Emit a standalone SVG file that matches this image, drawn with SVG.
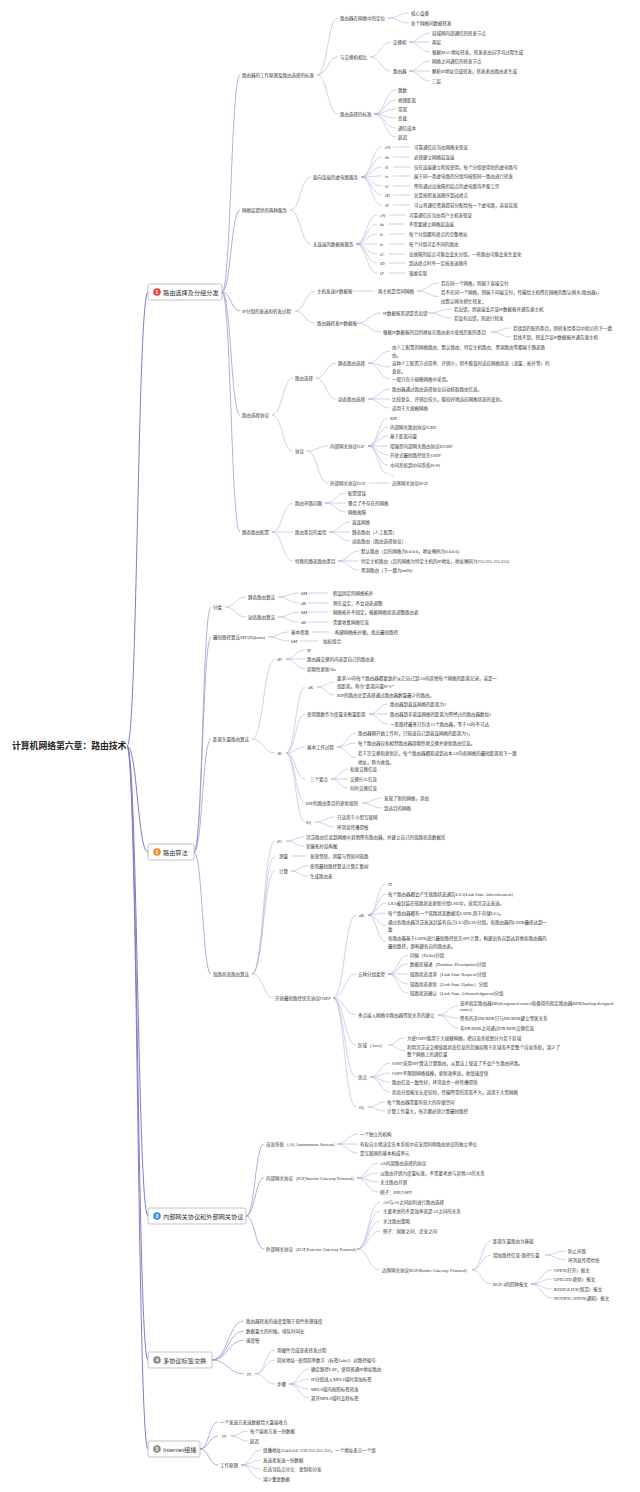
<svg xmlns="http://www.w3.org/2000/svg" width="640" height="1492" viewBox="0 0 640 1492">
<style>
.t{font-family:"Liberation Serif","Noto Sans CJK SC",sans-serif;font-size:4.5px;fill:#333;dominant-baseline:central}
.b{font-family:"Liberation Sans","Noto Sans CJK SC",sans-serif;font-size:6.2px;fill:#333;dominant-baseline:central}
.r{font-family:"Liberation Sans","Noto Sans CJK SC",sans-serif;font-size:8.8px;font-weight:bold;fill:#222;dominant-baseline:central}
.n{font-family:"Liberation Sans",sans-serif;font-size:5px;fill:#fff;text-anchor:middle;dominant-baseline:central;font-weight:bold}
.box{fill:#fff;stroke:#9a9a9a;stroke-width:0.6}
.c0{fill:none;stroke:#7d7dc6;stroke-width:1}
.c1{fill:none;stroke:#8e8ecc;stroke-width:0.7}
.c2{fill:none;stroke:#a3a3d4;stroke-width:0.5}
</style>
<rect width="640" height="1492" fill="#fff"/>
<g id="connectors">
<g class="c0">
<path d="M127 746 C137.5 746 137.5 292 148 292"/>
<path d="M127 746 C137.5 746 137.5 852 148 852"/>
<path d="M127 746 C137.5 746 137.5 1216 148 1216"/>
<path d="M127 746 C137.5 746 137.5 1360 148 1360"/>
<path d="M127 746 C137.5 746 137.5 1449 148 1449"/>
</g>
<g class="c1">
<path d="M222 292 C231 292 231 75 240 75"/>
<path d="M222 292 C231 292 231 210 240 210"/>
<path d="M222 292 C231 292 231 311 240 311"/>
<path d="M222 292 C231 292 231 415 240 415"/>
<path d="M222 292 C231 292 231 532 240 532"/>
<path d="M194 852 C202.5 852 202.5 607 211 607"/>
<path d="M194 852 C202.5 852 202.5 637 211 637"/>
<path d="M194 852 C202.5 852 202.5 739 211 739"/>
<path d="M194 852 C202.5 852 202.5 974 211 974"/>
<path d="M246 1216 C255 1216 255 1144 264 1144"/>
<path d="M246 1216 C255 1216 255 1178 264 1178"/>
<path d="M246 1216 C255 1216 255 1249 264 1249"/>
<path d="M212 1360 C228 1360 228 1321 244 1321"/>
<path d="M212 1360 C228 1360 228 1331 244 1331"/>
<path d="M212 1360 C228 1360 228 1340 244 1340"/>
<path d="M212 1360 C228 1360 228 1374 244 1374"/>
<path d="M200 1449 C209 1449 209 1422 218 1422"/>
<path d="M200 1449 C209 1449 209 1436 218 1436"/>
<path d="M200 1449 C209 1449 209 1465 218 1465"/>
</g>
<g class="c2">
<path d="M317 75 C327.5 75 327.5 18 338 18"/>
<path d="M317 75 C327.5 75 327.5 57 338 57"/>
<path d="M317 75 C327.5 75 327.5 114 338 114"/>
<path d="M388 18 C398.5 18 398.5 13 409 13"/>
<path d="M388 18 C398.5 18 398.5 23 409 23"/>
<path d="M370 57 C380.5 57 380.5 42 391 42"/>
<path d="M370 57 C380.5 57 380.5 71 391 71"/>
<path d="M409 42 C419.5 42 419.5 33 430 33"/>
<path d="M409 42 C419.5 42 419.5 42 430 42"/>
<path d="M409 42 C419.5 42 419.5 52 430 52"/>
<path d="M409 71 C419.5 71 419.5 61 430 61"/>
<path d="M409 71 C419.5 71 419.5 71 430 71"/>
<path d="M409 71 C419.5 71 419.5 81 430 81"/>
<path d="M374 114 C385 114 385 90 396 90"/>
<path d="M374 114 C385 114 385 100 396 100"/>
<path d="M374 114 C385 114 385 109 396 109"/>
<path d="M374 114 C385 114 385 118 396 118"/>
<path d="M374 114 C385 114 385 128 396 128"/>
<path d="M374 114 C385 114 385 137 396 137"/>
<path d="M290 210 C300.5 210 300.5 177 311 177"/>
<path d="M290 210 C300.5 210 300.5 244 311 244"/>
<path d="M361 177 C371.5 177 371.5 147 382 147"/>
<path d="M361 177 C371.5 177 371.5 157 382 157"/>
<path d="M361 177 C371.5 177 371.5 167 382 167"/>
<path d="M361 177 C371.5 177 371.5 176 382 176"/>
<path d="M361 177 C371.5 177 371.5 186 382 186"/>
<path d="M361 177 C371.5 177 371.5 195 382 195"/>
<path d="M361 177 C371.5 177 371.5 205 382 205"/>
<path d="M393 147 H410 M393 157 H410 M393 167 H410 M393 176 H410 M393 186 H410 M393 195 H410 M393 205 H410"/>
<path d="M356 244 C366.5 244 366.5 215 377 215"/>
<path d="M356 244 C366.5 244 366.5 224 377 224"/>
<path d="M356 244 C366.5 244 366.5 234 377 234"/>
<path d="M356 244 C366.5 244 366.5 244 377 244"/>
<path d="M356 244 C366.5 244 366.5 254 377 254"/>
<path d="M356 244 C366.5 244 366.5 263 377 263"/>
<path d="M356 244 C366.5 244 366.5 273 377 273"/>
<path d="M389 215 H405 M389 224 H405 M389 234 H405 M389 244 H405 M389 254 H405 M389 263 H405 M389 273 H405"/>
<path d="M295 311 C305 311 305 291 315 291"/>
<path d="M295 311 C305 311 305 323 315 323"/>
<path d="M353 291 H374"/>
<path d="M417 291 C428 291 428 283 439 283"/>
<path d="M417 291 C428 291 428 296.5 439 296.5"/>
<path d="M357 323 C369 323 369 313 381 313"/>
<path d="M357 323 C369 323 369 332 381 332"/>
<path d="M428 313 C440 313 440 309 452 309"/>
<path d="M428 313 C440 313 440 318 452 318"/>
<path d="M491 332 C501 332 501 328 511 328"/>
<path d="M491 332 C501 332 501 337 511 337"/>
<path d="M272 415 C282.5 415 282.5 378 293 378"/>
<path d="M272 415 C282.5 415 282.5 451 293 451"/>
<path d="M316 378 C326 378 326 363 336 363"/>
<path d="M316 378 C326 378 326 399 336 399"/>
<path d="M368 363 C379 363 379 351 390 351"/>
<path d="M368 363 C379 363 379 367 390 367"/>
<path d="M368 363 C379 363 379 379 390 379"/>
<path d="M368 399 C379 399 379 389 390 389"/>
<path d="M368 399 C379 399 379 399 390 399"/>
<path d="M368 399 C379 399 379 408 390 408"/>
<path d="M307 451 C317.5 451 317.5 446 328 446"/>
<path d="M307 451 C317.5 451 317.5 483 328 483"/>
<path d="M368 446 C378 446 378 418 388 418"/>
<path d="M368 446 C378 446 378 427 388 427"/>
<path d="M368 446 C378 446 378 436 388 436"/>
<path d="M368 446 C378 446 378 446 388 446"/>
<path d="M368 446 C378 446 378 455 388 455"/>
<path d="M368 446 C378 446 378 465 388 465"/>
<path d="M368 446 C378 446 378 474 388 474"/>
<path d="M369 483 H389"/>
<path d="M272 532 C282.5 532 282.5 503 293 503"/>
<path d="M272 532 C282.5 532 282.5 532 293 532"/>
<path d="M272 532 C282.5 532 282.5 561 293 561"/>
<path d="M325 503 C335.5 503 335.5 493 346 493"/>
<path d="M325 503 C335.5 503 335.5 503 346 503"/>
<path d="M325 503 C335.5 503 335.5 512 346 512"/>
<path d="M329 532 C339.5 532 339.5 522 350 522"/>
<path d="M329 532 C339.5 532 339.5 532 350 532"/>
<path d="M329 532 C339.5 532 339.5 541 350 541"/>
<path d="M338 561 C348.5 561 348.5 551 359 551"/>
<path d="M338 561 C348.5 561 348.5 561 359 561"/>
<path d="M338 561 C348.5 561 348.5 570 359 570"/>
<path d="M225 607 C235.5 607 235.5 597 246 597"/>
<path d="M225 607 C235.5 607 235.5 617 246 617"/>
<path d="M278 597 C288.5 597 288.5 593 299 593"/>
<path d="M278 597 C288.5 597 288.5 603 299 603"/>
<path d="M278 617 C288.5 617 288.5 612 299 612"/>
<path d="M278 617 C288.5 617 288.5 622 299 622"/>
<path d="M308 593 H328 M308 603 H328 M308 612 H328 M308 622 H328"/>
<path d="M268 637 C278.5 637 278.5 632 289 632"/>
<path d="M268 637 C278.5 637 278.5 641 289 641"/>
<path d="M312 632 H329 M300 641 H318"/>
<path d="M252 739 C263.5 739 263.5 659 275 659"/>
<path d="M252 739 C263.5 739 263.5 753 275 753"/>
<path d="M286 659 C295.5 659 295.5 650 305 650"/>
<path d="M286 659 C295.5 659 295.5 659 305 659"/>
<path d="M286 659 C295.5 659 295.5 669 305 669"/>
<path d="M286 753 C295.5 753 295.5 687 305 687"/>
<path d="M286 753 C295.5 753 295.5 714 305 714"/>
<path d="M286 753 C295.5 753 295.5 747 305 747"/>
<path d="M286 753 C295.5 753 295.5 779 305 779"/>
<path d="M286 753 C295.5 753 295.5 803 305 803"/>
<path d="M286 753 C295.5 753 295.5 822 305 822"/>
<path d="M317 687 C326 687 326 682 335 682"/>
<path d="M317 687 C326 687 326 695 335 695"/>
<path d="M369 714 C378.5 714 378.5 704 388 704"/>
<path d="M369 714 C378.5 714 378.5 714 388 714"/>
<path d="M369 714 C378.5 714 378.5 724 388 724"/>
<path d="M337 747 C346.5 747 346.5 733 356 733"/>
<path d="M337 747 C346.5 747 346.5 743 356 743"/>
<path d="M337 747 C346.5 747 346.5 757.5 356 757.5"/>
<path d="M331 779 C339.5 779 339.5 769 348 769"/>
<path d="M331 779 C339.5 779 339.5 779 348 779"/>
<path d="M331 779 C339.5 779 339.5 788 348 788"/>
<path d="M362 803 C372 803 372 798 382 798"/>
<path d="M362 803 C372 803 372 808 382 808"/>
<path d="M315 822 C325 822 325 817 335 817"/>
<path d="M315 822 C325 822 325 827 335 827"/>
<path d="M252 974 C263.5 974 263.5 841 275 841"/>
<path d="M252 974 C263.5 974 263.5 856 275 856"/>
<path d="M252 974 C263.5 974 263.5 871 275 871"/>
<path d="M252 974 C263.5 974 263.5 998 273 998"/>
<path d="M286 841 C295 841 295 837 304 837"/>
<path d="M286 841 C295 841 295 846 304 846"/>
<path d="M291 856 H306"/>
<path d="M291 871 C299.5 871 299.5 866 308 866"/>
<path d="M291 871 C299.5 871 299.5 876 308 876"/>
<path d="M333 998 C344.5 998 344.5 915 356 915"/>
<path d="M333 998 C344.5 998 344.5 974 356 974"/>
<path d="M333 998 C344.5 998 344.5 1015 356 1015"/>
<path d="M333 998 C344.5 998 344.5 1045 356 1045"/>
<path d="M333 998 C344.5 998 344.5 1077 356 1077"/>
<path d="M333 998 C344.5 998 344.5 1107 356 1107"/>
<path d="M368 915 C377 915 377 884 386 884"/>
<path d="M368 915 C377 915 377 894 386 894"/>
<path d="M368 915 C377 915 377 903 386 903"/>
<path d="M368 915 C377 915 377 913 386 913"/>
<path d="M368 915 C377 915 377 925.5 386 925.5"/>
<path d="M368 915 C377 915 377 942 386 942"/>
<path d="M388 974 C398 974 398 955 408 955"/>
<path d="M388 974 C398 974 398 964 408 964"/>
<path d="M388 974 C398 974 398 974 408 974"/>
<path d="M388 974 C398 974 398 984 408 984"/>
<path d="M388 974 C398 974 398 993 408 993"/>
<path d="M438 1015 C448 1015 448 1006 458 1006"/>
<path d="M438 1015 C448 1015 448 1018 458 1018"/>
<path d="M438 1015 C448 1015 448 1028 458 1028"/>
<path d="M388 1045 C396.5 1045 396.5 1038 405 1038"/>
<path d="M388 1045 C396.5 1045 396.5 1050.5 405 1050.5"/>
<path d="M370 1077 C380 1077 380 1063 390 1063"/>
<path d="M370 1077 C380 1077 380 1073 390 1073"/>
<path d="M370 1077 C380 1077 380 1082 390 1082"/>
<path d="M370 1077 C380 1077 380 1092 390 1092"/>
<path d="M368 1107 C376.5 1107 376.5 1102 385 1102"/>
<path d="M368 1107 C376.5 1107 376.5 1111 385 1111"/>
<path d="M337 1144 C347.5 1144 347.5 1134 358 1134"/>
<path d="M337 1144 C347.5 1144 347.5 1144 358 1144"/>
<path d="M337 1144 C347.5 1144 347.5 1153 358 1153"/>
<path d="M357 1178 C367.5 1178 367.5 1163 378 1163"/>
<path d="M357 1178 C367.5 1178 367.5 1173 378 1173"/>
<path d="M357 1178 C367.5 1178 367.5 1182 378 1182"/>
<path d="M357 1178 C367.5 1178 367.5 1192 378 1192"/>
<path d="M357 1249 C368.5 1249 368.5 1202 380 1202"/>
<path d="M357 1249 C368.5 1249 368.5 1211 380 1211"/>
<path d="M357 1249 C368.5 1249 368.5 1221 380 1221"/>
<path d="M357 1249 C368.5 1249 368.5 1231 380 1231"/>
<path d="M357 1249 C368.5 1249 368.5 1270 380 1270"/>
<path d="M472 1270 C481.5 1270 481.5 1241 491 1241"/>
<path d="M472 1270 C481.5 1270 481.5 1255 491 1255"/>
<path d="M472 1270 C481.5 1270 481.5 1284 491 1284"/>
<path d="M545 1255 C555.5 1255 555.5 1251 566 1251"/>
<path d="M545 1255 C555.5 1255 555.5 1260 566 1260"/>
<path d="M531 1284 C541.5 1284 541.5 1270 552 1270"/>
<path d="M531 1284 C541.5 1284 541.5 1279 552 1279"/>
<path d="M531 1284 C541.5 1284 541.5 1289 552 1289"/>
<path d="M531 1284 C541.5 1284 541.5 1298 552 1298"/>
<path d="M255 1374 C265 1374 265 1350 275 1350"/>
<path d="M255 1374 C265 1374 265 1360 275 1360"/>
<path d="M255 1374 C265 1374 265 1384 275 1384"/>
<path d="M289 1384 C299 1384 299 1369 309 1369"/>
<path d="M289 1384 C299 1384 299 1379 309 1379"/>
<path d="M289 1384 C299 1384 299 1389 309 1389"/>
<path d="M289 1384 C299 1384 299 1398 309 1398"/>
<path d="M231 1436 C239.5 1436 239.5 1431 248 1431"/>
<path d="M231 1436 C239.5 1436 239.5 1441 248 1441"/>
<path d="M241 1465 C251 1465 251 1450 261 1450"/>
<path d="M241 1465 C251 1465 251 1460 261 1460"/>
<path d="M241 1465 C251 1465 251 1469 261 1469"/>
<path d="M241 1465 C251 1465 251 1479 261 1479"/>
</g>
</g>

<g id="root"><text class="r" x="12" y="746">计算机网络第六章：路由技术</text></g>

<g id="b1"><rect class="box" x="148" y="284" width="74" height="16" rx="2"/><circle cx="157" cy="292" r="3.8" fill="#e5473c"/><text class="n" x="157" y="292.3">1</text><text class="b" x="163" y="292">路由选择及分组分发</text></g>
<g id="b2"><rect class="box" x="148" y="844" width="46" height="16" rx="2"/><circle cx="157" cy="852" r="3.8" fill="#f0892b"/><text class="n" x="157" y="852.3">2</text><text class="b" x="163" y="852">路由算法</text></g>
<g id="b3"><rect class="box" x="148" y="1208" width="98" height="16" rx="2"/><circle cx="157" cy="1216" r="3.8" fill="#3a8fde"/><text class="n" x="157" y="1216.3">3</text><text class="b" x="163" y="1216">内部网关协议和外部网关协议</text></g>
<g id="b4"><rect class="box" x="148" y="1352" width="64" height="16" rx="2"/><circle cx="157" cy="1360" r="3.8" fill="#8a8a8a"/><text class="n" x="157" y="1360.3">4</text><text class="b" x="163" y="1360">多协议标签交换</text></g>
<g id="b5"><rect class="box" x="148" y="1441" width="52" height="16" rx="2"/><circle cx="157" cy="1449" r="3.8" fill="#8a8a8a"/><text class="n" x="157" y="1449.3">5</text><text class="b" x="163" y="1449">Internet组播</text></g>

<!-- Branch 1 -->
<g id="n1"><text class="t" x="242" y="75">路由器的工作原理及路由选择的标准</text></g>
<g id="n1a"><text class="t" x="340" y="18">路由器在网络中的定位</text></g>
<g id="n1a1"><text class="t" x="411" y="13">核心设备</text></g>
<g id="n1a2"><text class="t" x="411" y="23">各个网络间数据转发</text></g>
<g id="n1b"><text class="t" x="340" y="57">与交换机相比</text></g>
<g id="n1b1"><text class="t" x="393" y="42">交换机</text></g>
<g id="n1b1a"><text class="t" x="432" y="33">局域网内部通信的转发节点</text></g>
<g id="n1b1b"><text class="t" x="432" y="42">两层</text></g>
<g id="n1b1c"><text class="t" x="432" y="52">根据MAC地址转发，转发表由自学习过程生成</text></g>
<g id="n1b2"><text class="t" x="393" y="71">路由器</text></g>
<g id="n1b2a"><text class="t" x="432" y="61">网络之间通信的转发节点</text></g>
<g id="n1b2b"><text class="t" x="432" y="71">解析IP地址完成转发，转发表由路由表生成</text></g>
<g id="n1b2c"><text class="t" x="432" y="81">三层</text></g>
<g id="n1c"><text class="t" x="340" y="114">路由选择的标准</text></g>
<g id="n1c1"><text class="t" x="398" y="90">跳数</text></g>
<g id="n1c2"><text class="t" x="398" y="100">地理距离</text></g>
<g id="n1c3"><text class="t" x="398" y="109">带宽</text></g>
<g id="n1c4"><text class="t" x="398" y="118">负载</text></g>
<g id="n1c5"><text class="t" x="398" y="128">通信成本</text></g>
<g id="n1c6"><text class="t" x="398" y="137">延迟</text></g>

<g id="n2"><text class="t" x="242" y="210">网络层提供的两种服务</text></g>
<g id="n2a"><text class="t" x="313" y="177">面向连接的虚电路服务</text></g>
<g id="n2a1"><text class="t" x="385" y="147">cN</text><text class="t" x="414" y="147">可靠通信应当由网络来保证</text></g>
<g id="n2a2"><text class="t" x="385" y="157">ds</text><text class="t" x="414" y="157">必须建立网络层连接</text></g>
<g id="n2a3"><text class="t" x="385" y="167">fI</text><text class="t" x="414" y="167">仅在连接建立阶段使用，每个分组使用短的虚电路号</text></g>
<g id="n2a4"><text class="t" x="385" y="176">fs</text><text class="t" x="414" y="176">属于同一条虚电路的分组均按照同一路由进行转发</text></g>
<g id="n2a5"><text class="t" x="385" y="186">fC</text><text class="t" x="414" y="186">所有通过出故障的结点的虚电路均不能工作</text></g>
<g id="n2a6"><text class="t" x="385" y="195">fD</text><text class="t" x="414" y="195">总是按照发送顺序到达终点</text></g>
<g id="n2a7"><text class="t" x="385" y="205">fF</text><text class="t" x="414" y="205">可以将通信资源提前分配给每一个虚电路，容易实现</text></g>
<g id="n2b"><text class="t" x="313" y="244">无连接的数据报服务</text></g>
<g id="n2b1"><text class="t" x="380" y="215">cN</text><text class="t" x="409" y="215">可靠通信应当由用户主机来保证</text></g>
<g id="n2b2"><text class="t" x="380" y="224">ds</text><text class="t" x="409" y="224">不需要建立网络层连接</text></g>
<g id="n2b3"><text class="t" x="380" y="234">fi</text><text class="t" x="409" y="234">每个分组都有终点的完整地址</text></g>
<g id="n2b4"><text class="t" x="380" y="244">fr</text><text class="t" x="409" y="244">每个分组可走不同的路由</text></g>
<g id="n2b5"><text class="t" x="380" y="254">fC</text><text class="t" x="409" y="254">出故障的结点可能会丢失分组，一些路由可能会发生变化</text></g>
<g id="n2b6"><text class="t" x="380" y="263">fD</text><text class="t" x="409" y="263">到达终点时不一定按发送顺序</text></g>
<g id="n2b7"><text class="t" x="380" y="273">fF</text><text class="t" x="409" y="273">很难实现</text></g>

<g id="n3"><text class="t" x="242" y="311">IP分组的发送和转发过程</text></g>
<g id="n3a"><text class="t" x="317" y="291">主机发送IP数据报</text></g>
<g id="n3a1"><text class="t" x="378" y="291">两主机是否同网络</text></g>
<g id="n3a1a"><text class="t" x="441" y="283">若在同一个网络，则属于直接交付</text></g>
<g id="n3a1b"><text class="t" x="441" y="292">若不在同一个网络，则属于间接交付，传输给主机所在网络的默认网关(路由器)，</text><text class="t" x="441" y="301">由默认网关帮忙转发；</text></g>
<g id="n3b"><text class="t" x="317" y="323">路由器转发IP数据报</text></g>
<g id="n3b1"><text class="t" x="383" y="313">IP数据报首部是否出错</text></g>
<g id="n3b1a"><text class="t" x="454" y="309">若出错，则直接丢弃该IP数据报并通告源主机</text></g>
<g id="n3b1b"><text class="t" x="454" y="318">若没有出错，则进行转发</text></g>
<g id="n3b2"><text class="t" x="383" y="332">根据IP数据报的目的地址在路由表中查找匹配的条目</text></g>
<g id="n3b2a"><text class="t" x="513" y="328">若找到匹配的条目，则转发给条目中指示的下一跳</text></g>
<g id="n3b2b"><text class="t" x="513" y="337">若找不到，则丢弃该IP数据报并通告源主机</text></g>

<g id="n4"><text class="t" x="242" y="415">路由选择协议</text></g>
<g id="n4a"><text class="t" x="295" y="378">路由选择</text></g>
<g id="n4a1"><text class="t" x="338" y="363">静态路由选择</text></g>
<g id="n4a1a"><text class="t" x="392" y="347">由人工配置的网络路由、默认路由、特定主机路由、黑洞路由等都属于静态路</text><text class="t" x="392" y="355">由。</text></g>
<g id="n4a1b"><text class="t" x="392" y="363">这种人工配置方式简单、开销小，但不能及时适应网络状态（流量、拓扑等）的</text><text class="t" x="392" y="371">变化。</text></g>
<g id="n4a1c"><text class="t" x="392" y="379">一般只在小规模网络中采用。</text></g>
<g id="n4a2"><text class="t" x="338" y="399">动态路由选择</text></g>
<g id="n4a2a"><text class="t" x="392" y="389">路由器通过路由选择协议自动获取路由信息。</text></g>
<g id="n4a2b"><text class="t" x="392" y="399">比较复杂、开销比较大，能较好地适应网络状态的变化。</text></g>
<g id="n4a2c"><text class="t" x="392" y="408">适用于大规模网络</text></g>
<g id="n4b"><text class="t" x="295" y="451">协议</text></g>
<g id="n4b1"><text class="t" x="330" y="446">内部网关协议IGP</text></g>
<g id="n4b1a"><text class="t" x="390" y="418">RIP</text></g>
<g id="n4b1b"><text class="t" x="390" y="427">内部网关路由协议IGRP</text></g>
<g id="n4b1c"><text class="t" x="390" y="436">基于距离向量</text></g>
<g id="n4b1d"><text class="t" x="390" y="446">增强型内部网关路由协议EIGRP</text></g>
<g id="n4b1e"><text class="t" x="390" y="455">开放式最短路径优先OSPF</text></g>
<g id="n4b1f"><text class="t" x="390" y="465">中间系统到中间系统IS-IS</text></g>
<g id="n4b1g"><text class="t" x="390" y="474">…</text></g>
<g id="n4b2"><text class="t" x="330" y="483">外部网关协议EGP</text></g>
<g id="n4b2a"><text class="t" x="392" y="483">边界网关协议BGP</text></g>

<g id="n5"><text class="t" x="242" y="532">静态路由配置</text></g>
<g id="n5a"><text class="t" x="295" y="503">路由环路问题</text></g>
<g id="n5a1"><text class="t" x="348" y="493">配置错误</text></g>
<g id="n5a2"><text class="t" x="348" y="503">聚合了不存在的网络</text></g>
<g id="n5a3"><text class="t" x="348" y="512">网络故障</text></g>
<g id="n5b"><text class="t" x="295" y="532">路由条目的类型</text></g>
<g id="n5b1"><text class="t" x="352" y="522">直连网络</text></g>
<g id="n5b2"><text class="t" x="352" y="532">静态路由（人工配置）</text></g>
<g id="n5b3"><text class="t" x="352" y="541">动态路由（路由选择协议）</text></g>
<g id="n5c"><text class="t" x="295" y="561">特殊的静态路由条目</text></g>
<g id="n5c1"><text class="t" x="361" y="551">默认路由（目的网络为0.0.0.0，地址掩码为0.0.0.0）</text></g>
<g id="n5c2"><text class="t" x="361" y="561">特定主机路由（目的网络为特定主机的IP地址，地址掩码为255.255.255.255）</text></g>
<g id="n5c3"><text class="t" x="361" y="570">黑洞路由（下一跳为null0）</text></g>

<!-- Branch 2 -->
<g id="m1"><text class="t" x="213" y="607">分类</text></g>
<g id="m1a"><text class="t" x="248" y="597">静态路由算法</text></g>
<g id="m1a1"><text class="t" x="301" y="593">bM</text><text class="t" x="333" y="593">假设固定的网络拓扑</text></g>
<g id="m1a2"><text class="t" x="301" y="603">aK</text><text class="t" x="333" y="603">预先设定，不会动态调整</text></g>
<g id="m1b"><text class="t" x="248" y="617">动态路由算法</text></g>
<g id="m1b1"><text class="t" x="301" y="612">bM</text><text class="t" x="333" y="612">网络拓扑不固定，根据网络状态调整路由表</text></g>
<g id="m1b2"><text class="t" x="301" y="622">aK</text><text class="t" x="333" y="622">需要收集网络信息</text></g>
<g id="m2"><text class="t" x="213" y="637">最短路径算法SPF(Dijkstra)</text></g>
<g id="m2a"><text class="t" x="291" y="632">基本思路</text><text class="t" x="335" y="632">构建网络拓扑图，找出最短路径</text></g>
<g id="m2b"><text class="t" x="291" y="641">bM</text><text class="t" x="323" y="641">加权组合</text></g>
<g id="m3"><text class="t" x="213" y="739">距离矢量路由算法</text></g>
<g id="m3a"><text class="t" x="277" y="659">fD</text></g>
<g id="m3a1"><text class="t" x="307" y="650">IP</text></g>
<g id="m3a2"><text class="t" x="307" y="659">路由器交换的内容是自己的路由表</text></g>
<g id="m3a3"><text class="t" x="307" y="669">周期性更新30s</text></g>
<g id="m3b"><text class="t" x="277" y="753">fB</text></g>
<g id="m3b1"><text class="t" x="308" y="687">aK</text></g>
<g id="m3b1a"><text class="t" x="337" y="678">要求AS内每个路由器都要维护从它自己到AS内其他每个网络的距离记录，这是一</text><text class="t" x="337" y="686">组距离，称为“距离向量D-V”</text></g>
<g id="m3b1b"><text class="t" x="337" y="695">RIP的路由总是选择通过路由器数量最少的路由。</text></g>
<g id="m3b2"><text class="t" x="307" y="714">使用跳数作为度量来衡量距离</text></g>
<g id="m3b2a"><text class="t" x="390" y="704">路由器到直连网络的距离为1</text></g>
<g id="m3b2b"><text class="t" x="390" y="714">路由器到非直连网络的距离为所经过的路由器数加1</text></g>
<g id="m3b2c"><text class="t" x="390" y="724">一条路径最多只包含15个路由器，等于16时不可达</text></g>
<g id="m3b3"><text class="t" x="307" y="747">基本工作过程</text></g>
<g id="m3b3a"><text class="t" x="358" y="733">路由器刚开始工作时，只知道自己到直连网络的距离为1。</text></g>
<g id="m3b3b"><text class="t" x="358" y="743">每个路由器仅和相邻路由器周期性地交换并更新路由信息。</text></g>
<g id="m3b3c"><text class="t" x="358" y="753">若干次交换和更新后，每个路由器都知道到达本AS内各网络的最短距离和下一跳</text><text class="t" x="358" y="762">地址，称为收敛。</text></g>
<g id="m3b4"><text class="t" x="310" y="779">三个要点</text></g>
<g id="m3b4a"><text class="t" x="350" y="769">和谁交换信息</text></g>
<g id="m3b4b"><text class="t" x="350" y="779">交换什么信息</text></g>
<g id="m3b4c"><text class="t" x="350" y="788">何时交换信息</text></g>
<g id="m3b5"><text class="t" x="306" y="803">RIP的路由条目的更新规则</text></g>
<g id="m3b5a"><text class="t" x="384" y="798">发现了新的网络，添加</text></g>
<g id="m3b5b"><text class="t" x="384" y="808">到达目的网络</text></g>
<g id="m3b6"><text class="t" x="306" y="822">fQ</text></g>
<g id="m3b6a"><text class="t" x="337" y="817">只适用于小型互联网</text></g>
<g id="m3b6b"><text class="t" x="337" y="827">坏消息传播得慢</text></g>

<g id="m4"><text class="t" x="213" y="974">链路状态路由算法</text></g>
<g id="m4a"><text class="t" x="277" y="841">fO</text></g>
<g id="m4a1"><text class="t" x="306" y="837">洪泛路由信息到网络中其他所有路由器，并建立自己的链路状态数据库</text></g>
<g id="m4a2"><text class="t" x="306" y="846">掌握拓扑结构图</text></g>
<g id="m4b"><text class="t" x="279" y="856">测量</text><text class="t" x="310" y="856">发现邻居，测量与邻居间链路</text></g>
<g id="m4c"><text class="t" x="279" y="871">计算</text></g>
<g id="m4c1"><text class="t" x="310" y="866">使用最短路径算法计算汇集树</text></g>
<g id="m4c2"><text class="t" x="310" y="876">生成路由表</text></g>
<g id="m4d"><text class="t" x="275" y="998">开放最短路径优先协议OSPF</text></g>
<g id="m4d1"><text class="t" x="359" y="915">aK</text></g>
<g id="m4d1a"><text class="t" x="388" y="884">IT</text></g>
<g id="m4d1b"><text class="t" x="388" y="894">每个路由器都会产生链路状态通告LSA(Link State Advertisement)</text></g>
<g id="m4d1c"><text class="t" x="388" y="903">LSA被封装在链路状态更新分组LSU中，采用洪泛法发送。</text></g>
<g id="m4d1d"><text class="t" x="388" y="913">每个路由器都有一个链路状态数据库LSDB,用于存储LSA。</text></g>
<g id="m4d1e"><text class="t" x="388" y="922">通过各路由器洪泛发送封装有自己LSA的LSU分组，各路由器的LSDB最终达到一</text><text class="t" x="388" y="929">致</text></g>
<g id="m4d1f"><text class="t" x="388" y="938">各路由器基于LSDB进行最短路径优先SPF计算，构建出各自到达其他各路由器的</text><text class="t" x="388" y="946">最短路径，即构建各自的路由表。</text></g>
<g id="m4d2"><text class="t" x="358" y="974">五种分组类型</text></g>
<g id="m4d2a"><text class="t" x="410" y="955">问候（Hello)分组</text></g>
<g id="m4d2b"><text class="t" x="410" y="964">数据库描述（Database Description)分组</text></g>
<g id="m4d2c"><text class="t" x="410" y="974">链路状态请求（Link State Request)分组</text></g>
<g id="m4d2d"><text class="t" x="410" y="984">链路状态更新（Link State Update）分组</text></g>
<g id="m4d2e"><text class="t" x="410" y="993">链路状态确认（Link State Acknowledgment)分组</text></g>
<g id="m4d3"><text class="t" x="358" y="1015">多点接入网络中路由器邻居关系的建立</text></g>
<g id="m4d3a"><text class="t" x="460" y="1003">选举指定路由器DR(designated router)和备用的指定路由器BDR(backup designed</text><text class="t" x="460" y="1009">router)</text></g>
<g id="m4d3b"><text class="t" x="460" y="1018">所有的非DR/BDR只与DR/BDR建立邻居关系</text></g>
<g id="m4d3c"><text class="t" x="460" y="1028">非DR/BDR之间通过DR/BDR交换信息</text></g>
<g id="m4d4"><text class="t" x="358" y="1045">区域（Area）</text></g>
<g id="m4d4a"><text class="t" x="407" y="1038">为使OSPF能用于大规模网络，把自治系统划分为若干区域</text></g>
<g id="m4d4b"><text class="t" x="407" y="1047">利用洪泛法交换链路状态信息的范围局限于区域而不是整个自治系统，减少了</text><text class="t" x="407" y="1054">整个网络上的通信量</text></g>
<g id="m4d5"><text class="t" x="358" y="1077">优点</text></g>
<g id="m4d5a"><text class="t" x="392" y="1063">OSPF采用SPF算法计算路由，从算法上保证了不会产生路由环路。</text></g>
<g id="m4d5b"><text class="t" x="392" y="1073">OSPF不限制网络规模，更新效率高，收敛速度快</text></g>
<g id="m4d5c"><text class="t" x="392" y="1082">路由信息一致性好，坏消息也一样传播得快</text></g>
<g id="m4d5d"><text class="t" x="392" y="1092">状态分组报文长度较短，传输所需的带宽不大，适用于大型网络</text></g>
<g id="m4d6"><text class="t" x="359" y="1107">fQ</text></g>
<g id="m4d6a"><text class="t" x="387" y="1102">每个路由器需要有较大的存储空间</text></g>
<g id="m4d6b"><text class="t" x="387" y="1111">计算工作量大，每次都必须计算最短路径</text></g>

<!-- Branch 3 -->
<g id="k1"><text class="t" x="266" y="1144">自治系统（AS,Autonomous System）</text></g>
<g id="k1a"><text class="t" x="360" y="1134">一个独立的机构</text></g>
<g id="k1b"><text class="t" x="360" y="1144">有权自主地决定在本系统中应采用何种路由协议的独立单位</text></g>
<g id="k1c"><text class="t" x="360" y="1153">是互联网的基本构成单元</text></g>
<g id="k2"><text class="t" x="266" y="1178">内部网关协议（IGP,Interior Gateway Protocol）</text></g>
<g id="k2a"><text class="t" x="380" y="1163">AS内部路由选择的协议</text></g>
<g id="k2b"><text class="t" x="380" y="1173">以路由开销为度量标准，不需要考虑与其他AS的关系</text></g>
<g id="k2c"><text class="t" x="380" y="1182">关注路由开销</text></g>
<g id="k2d"><text class="t" x="380" y="1192">例子：RIP,OSPF</text></g>
<g id="k3"><text class="t" x="266" y="1249">外部网关协议（EGP,Exterior Gateway Protocol）</text></g>
<g id="k3a"><text class="t" x="383" y="1202">AS与AS之间如何进行路由选择</text></g>
<g id="k3b"><text class="t" x="383" y="1211">主要考虑的不是效率而是AS之间的关系</text></g>
<g id="k3c"><text class="t" x="383" y="1221">关注路由策略</text></g>
<g id="k3d"><text class="t" x="383" y="1231">例子：国家之间、企业之间</text></g>
<g id="k3e"><text class="t" x="382" y="1270">边界网关协议BGP(Border Gateway Protocol)</text></g>
<g id="k3e1"><text class="t" x="493" y="1241">距离矢量路由为基础</text></g>
<g id="k3e2"><text class="t" x="493" y="1255">增加路径信息-路径矢量</text></g>
<g id="k3e2a"><text class="t" x="568" y="1251">防止环路</text></g>
<g id="k3e2b"><text class="t" x="568" y="1260">坏消息传得也快</text></g>
<g id="k3e3"><text class="t" x="493" y="1284">BGP-4的四种报文</text></g>
<g id="k3e3a"><text class="t" x="554" y="1270">OPEN(打开）报文</text></g>
<g id="k3e3b"><text class="t" x="554" y="1279">UPDATE(更新）报文</text></g>
<g id="k3e3c"><text class="t" x="554" y="1289">KEEPALIVE(保活）报文</text></g>
<g id="k3e3d"><text class="t" x="554" y="1298">NOTIFICATION(通知）报文</text></g>

<!-- Branch 4 -->
<g id="p1"><text class="t" x="246" y="1321">路由器转发的速度受限于软件处理速度</text></g>
<g id="p2"><text class="t" x="246" y="1331">数据量大的时候，排队时间长</text></g>
<g id="p3"><text class="t" x="246" y="1340">速度慢</text></g>
<g id="p4"><text class="t" x="247" y="1374">IT</text></g>
<g id="p4a"><text class="t" x="277" y="1350">用硬件完成查表转发过程</text></g>
<g id="p4b"><text class="t" x="277" y="1360">简化地址--使用简单数字（标签Label）对路径编号</text></g>
<g id="p4c"><text class="t" x="277" y="1384">步骤</text></g>
<g id="p4c1"><text class="t" x="311" y="1369">确定路径LSP，使用普通IP地址路由</text></g>
<g id="p4c2"><text class="t" x="311" y="1379">IP分组进入MPLS域时添加标签</text></g>
<g id="p4c3"><text class="t" x="311" y="1389">MPLS域内按照标签转发</text></g>
<g id="p4c4"><text class="t" x="311" y="1398">离开MPLS域时去除标签</text></g>

<!-- Branch 5 -->
<g id="q1"><text class="t" x="220" y="1422">一个发送方发送数据给大量接收方</text></g>
<g id="q2"><text class="t" x="222" y="1436">IT</text></g>
<g id="q2a"><text class="t" x="250" y="1431">每个接收方发一份数据</text></g>
<g id="q2b"><text class="t" x="250" y="1441">延迟</text></g>
<g id="q3"><text class="t" x="220" y="1465">工作原理</text></g>
<g id="q3a"><text class="t" x="263" y="1450">组播地址224.0.0.0~239.255.255.255，一个地址表示一个组</text></g>
<g id="q3b"><text class="t" x="263" y="1460">发送者发送一份数据</text></g>
<g id="q3c"><text class="t" x="263" y="1469">在适当结点分叉：复制和分发</text></g>
<g id="q3d"><text class="t" x="263" y="1479">减少重复数据</text></g>
</svg>
